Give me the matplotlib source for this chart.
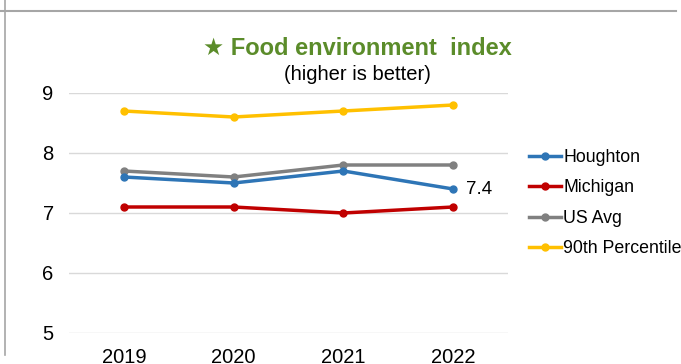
import matplotlib.pyplot as plt
from matplotlib.lines import Line2D

years = ["2019", "2020", "2021", "2022"]
houghton = [7.6, 7.5, 7.7, 7.4]
michigan = [7.1, 7.1, 7.0, 7.1]
us_avg = [7.7, 7.6, 7.8, 7.8]
pct90 = [8.7, 8.6, 8.7, 8.8]

series = [
    ("Houghton", houghton, "#2E75B6"),
    ("Michigan", michigan, "#C00000"),
    ("US Avg", us_avg, "#808080"),
    ("90th Percentile", pct90, "#FFC000"),
]

plt.rcParams['font.family'] = ['Liberation Sans', 'DejaVu Sans']

fig = plt.figure(figsize=(6.81, 3.64), dpi=100)
ax = fig.add_axes([69 / 681, 1 - 333 / 364, (508 - 69) / 681, (333 - 93) / 364])

x = list(range(len(years)))
# draw order: grey/yellow behind, blue on top
for name, vals, col in [series[3], series[2], series[1], series[0]]:
    ax.plot(x, vals, color=col, lw=2.5, marker="o", ms=5, label=name)

ax.set_xlim(-0.5, 3.5)
ax.set_ylim(5, 9)
ax.set_yticks([5, 6, 7, 8, 9])
ax.set_xticks(x)
ax.set_xticklabels(years)
ax.tick_params(axis="both", length=0, labelsize=14.5, colors="black")
ax.tick_params(axis="y", pad=11)
ax.tick_params(axis="x", pad=11)
ax.grid(axis="y", color="#D9D9D9", lw=1)
ax.set_axisbelow(True)
for s in ax.spines.values():
    s.set_visible(False)

ax.annotate(f"{houghton[-1]}", (3, houghton[-1]), xytext=(9, 0),
            textcoords="offset points", va="center", ha="left", fontsize=13.5)

handles = [Line2D([0], [0], color=c, lw=2.5, marker="o", ms=5) for _, _, c in series]
fig.legend(handles, [n for n, _, _ in series], loc="center left",
           bbox_to_anchor=(522 / 681, 1 - 203 / 364), frameon=False,
           fontsize=12.8, handlelength=1.8, handletextpad=0.12, labelspacing=0.76,
           borderaxespad=0)

fig.text(357 / 681, 1 - 48 / 364, "\u2605 Food environment  index", ha="center", va="center",
         fontsize=17, fontweight="bold", color="#5B8C2A")
fig.text(357 / 681, 1 - 75 / 364, "(higher is better)", ha="center", va="center",
         fontsize=14.5, color="black")

# frame lines of the original screenshot
fig.add_artist(Line2D([0, 676 / 681], [1 - 11 / 364, 1 - 11 / 364], color="#A6A6A6", lw=1.5))
fig.add_artist(Line2D([5 / 681, 5 / 681], [1, 1 - 355 / 364], color="#A6A6A6", lw=1.2))

fig.savefig("out.png", dpi=100)
